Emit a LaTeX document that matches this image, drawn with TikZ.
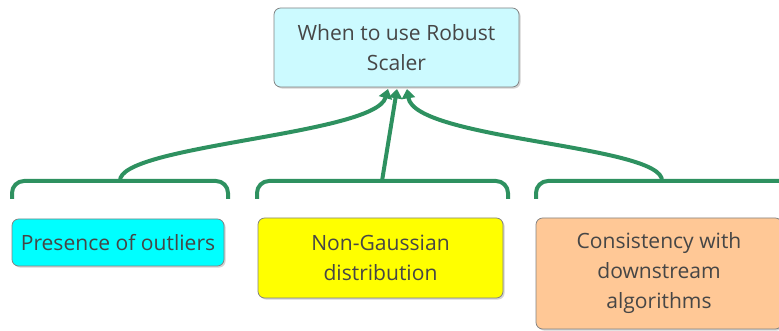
\documentclass[tikz,border=0pt]{standalone}
\usepackage{fontspec}
\setmainfont{Open Sans}
\usetikzlibrary{arrows.meta,shadows}
\definecolor{linkgreen}{RGB}{46,145,96}
\definecolor{topfill}{RGB}{204,250,255}
\definecolor{cyanfill}{RGB}{0,255,255}
\definecolor{yellowfill}{RGB}{255,255,0}
\definecolor{orangefill}{RGB}{255,200,150}
\definecolor{boxline}{RGB}{130,130,130}
\definecolor{txt}{RGB}{70,70,70}
\tikzset{
  topic/.style={draw=boxline, line width=0.6pt, rounded corners=5pt, align=center,
    text=txt, font=\fontsize{15.8}{22.5}\selectfont, inner sep=0pt,
    drop shadow={opacity=0.35, shadow xshift=1.2pt, shadow yshift=-1.2pt}},
  brace/.style={draw=linkgreen, line width=3pt, rounded corners=9pt},
  link/.style={draw=linkgreen, line width=3pt, -{Triangle[length=7pt,width=10pt]}},
}
\begin{document}
\begin{tikzpicture}[x=0.75pt,y=-0.75pt]
\useasboundingbox (0,0) rectangle (779,331);
% main topic and its three subtopics
\node[topic, fill=topfill, minimum width=245*0.75pt, minimum height=79*0.75pt] (root) at (396.5,47.5) {When to use Robust\\Scaler};
\node[topic, fill=cyanfill, minimum width=212*0.75pt, minimum height=47*0.75pt] (outl) at (118,242.5) {Presence of outliers};
\node[topic, fill=yellowfill, minimum width=245*0.75pt, minimum height=80*0.75pt] (gauss) at (380.5,258) {Non-Gaussian\\distribution};
\node[topic, fill=orangefill, minimum width=246*0.75pt, minimum height=111*0.75pt] (cons) at (659,273.5) {Consistency with\\downstream\\algorithms};
% brackets over the subtopics
\draw[brace] (12,199) -- (12,181) -- (228,181) -- (228,199);
\draw[brace] (257,199) -- (257,181) -- (508,181) -- (508,199);
\draw[brace] (536,199) -- (536,181) -- (795,181) -- (795,199);
\coordinate (b1) at (120,181);
\coordinate (b2) at (382,181);
\coordinate (b3) at (662,181);
% arrow tips just under the main topic
\coordinate (t1) at (388,89);
\coordinate (t2) at (397,89);
\coordinate (t3) at (407,89);
\draw[link] (b1) .. controls (118,145) and (375,135) .. (t1);
\draw[link] (b2) -- (t2);
\draw[link] (b3) .. controls (664,145) and (415,140) .. (t3);
\end{tikzpicture}
\end{document}
